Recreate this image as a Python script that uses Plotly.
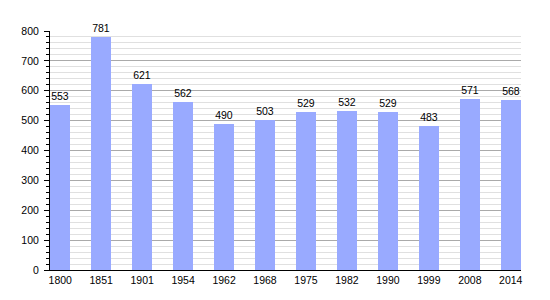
import plotly.graph_objects as go

years = ["1800", "1851", "1901", "1954", "1962", "1968", "1975", "1982", "1990", "1999", "2008", "2014"]
population = [553, 781, 621, 562, 490, 503, 529, 532, 529, 483, 571, 568]

fig = go.Figure(go.Bar(
    x=years, y=population,
    width=0.5,
    marker=dict(color="#99aaff", line=dict(width=0)),
    text=[str(v) for v in population],
    textposition="outside",
    textfont=dict(family="Liberation Sans, Arial", size=10.5, color="#000"),
    cliponaxis=False,
))

fig.update_layout(
    width=550, height=300,
    margin=dict(l=50, r=29, t=31, b=30),
    paper_bgcolor="white", plot_bgcolor="white",
    font=dict(family="Liberation Sans, Arial", size=10.5, color="#000"),
    showlegend=False,
    bargap=0,
)
fig.update_xaxes(
    type="category", range=[-0.25, 11.25],
    showline=True, linecolor="#000", linewidth=1,
    ticks="", showgrid=False, tickfont=dict(size=10.5),
)
fig.update_yaxes(
    range=[0, 800], dtick=100,
    showline=True, linecolor="#000", linewidth=1,
    ticks="outside", ticklen=5, tickcolor="#000", tickwidth=1,
    ticklabelstandoff=3,
    showgrid=True, gridcolor="#aaaaaa", gridwidth=1,
    minor=dict(dtick=20, ticks="outside", ticklen=3, tickcolor="#000",
               showgrid=True, gridcolor="#e0e0e0", gridwidth=1),
    zeroline=False, tickfont=dict(size=10.5),
)

fig.write_html("out.html")
